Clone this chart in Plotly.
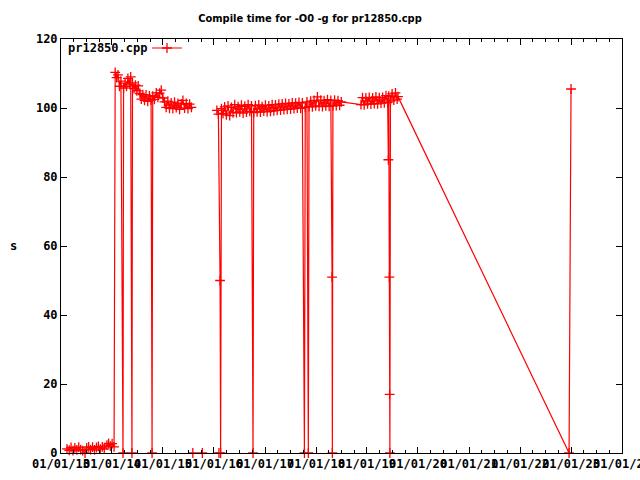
import plotly.graph_objects as go

# --- data (None = break in the line) ---
dates = [
    # 2013 cluster
    "2013-02-13", "2013-03-01", "2013-03-14", "2013-03-28", "2013-04-10", "2013-04-24",
    "2013-05-08", "2013-05-22", "2013-06-05", "2013-06-22", "2013-07-04", "2013-07-18",
    "2013-08-01", "2013-08-15", "2013-08-29", "2013-09-12", "2013-09-26", "2013-10-10",
    "2013-10-24", "2013-11-07", "2013-11-26", "2013-12-08", "2013-12-20", "2014-01-02",
    "2014-01-16",
    # 2014-2015
    "2014-01-24", "2014-02-03", "2014-02-13", "2014-02-24", "2014-03-06", "2014-03-21",
    "2014-03-25", "2014-04-05", "2014-04-15", "2014-04-25", "2014-05-05", "2014-05-15",
    "2014-05-24", "2014-05-28", "2014-06-08", "2014-06-18", "2014-06-28", "2014-07-08",
    "2014-07-20", "2014-07-30", "2014-08-10", "2014-08-22", "2014-09-02", "2014-09-14",
    "2014-09-26", "2014-10-08", "2014-10-15", "2014-10-20", "2014-11-01", "2014-11-14",
    "2014-11-26", "2014-12-08", "2014-12-20", "2015-01-01", "2015-01-12", "2015-01-24",
    "2015-02-05", "2015-02-17", "2015-03-01", "2015-03-13", "2015-03-25", "2015-04-06",
    "2015-04-18", "2015-04-30", "2015-05-12", "2015-05-24", "2015-06-05", "2015-06-17",
    "2015-06-29", "2015-07-11", "2015-07-24",
    None,
    "2015-08-03",
    None,
    "2015-10-10",
    None,
    "2016-02-06",
    None,
    # 2016-2019
    "2016-01-22", "2016-02-02", "2016-02-14", "2016-02-18", "2016-02-24", "2016-03-06",
    "2016-03-18", "2016-03-30", "2016-04-11", "2016-04-23", "2016-05-05", "2016-05-17",
    "2016-05-29", "2016-06-10", "2016-06-22", "2016-07-04", "2016-07-16", "2016-07-28",
    "2016-08-09", "2016-08-21", "2016-09-02", "2016-09-14", "2016-09-26", "2016-10-07",
    "2016-10-12", "2016-10-24", "2016-11-05", "2016-11-17", "2016-11-29", "2016-12-11",
    "2016-12-23", "2017-01-04", "2017-01-16", "2017-01-28", "2017-02-09", "2017-02-21",
    "2017-03-05", "2017-03-17", "2017-03-29", "2017-04-10", "2017-04-22", "2017-05-04",
    "2017-05-16", "2017-05-28", "2017-06-09", "2017-06-21", "2017-07-03", "2017-07-15",
    "2017-07-27", "2017-08-08", "2017-08-20", "2017-09-01", "2017-09-13", "2017-09-25",
    "2017-10-10", "2017-10-16", "2017-10-28", "2017-11-07", "2017-11-12", "2017-11-24",
    "2017-12-06", "2017-12-18", "2017-12-30", "2018-01-11", "2018-01-23", "2018-02-04",
    "2018-02-16", "2018-02-28", "2018-03-12", "2018-03-24", "2018-04-05", "2018-04-17",
    "2018-04-26", "2018-04-28", "2018-05-02", "2018-05-14", "2018-05-26", "2018-06-07",
    "2018-06-19", "2018-07-01", "2018-11-19", "2018-11-30", "2018-12-12", "2018-12-24",
    "2019-01-05", "2019-01-17", "2019-01-29", "2019-02-10", "2019-02-22", "2019-03-06",
    "2019-03-18", "2019-03-30", "2019-04-11", "2019-04-23", "2019-05-05", "2019-05-17",
    "2019-05-29", "2019-06-03", "2019-06-06", "2019-06-10", "2019-06-12", "2019-06-14",
    "2019-06-18", "2019-06-30", "2019-07-12", "2019-07-24", "2019-08-05", "2019-08-11",
    "2022-12-18", "2023-01-01",
]

seconds = [
    1.2, 0.8, 1.6, 0.7, 1.5, 0.9,
    1.7, 1.0, 0.7, 0.0, 1.5, 1.8,
    1.0, 1.7, 0.9, 1.6, 1.9, 1.1,
    1.8, 1.2, 2.3, 2.8, 2.0, 2.7,
    1.8,
    110.3, 108.8, 109.6, 106.3, 107.8, 0.0,
    105.8, 107.2, 106.3, 108.6, 106.9, 109.0,
    0.0, 107.3, 105.6, 106.6, 105.0, 106.4,
    104.2, 102.6, 103.9, 102.2, 103.8, 101.9,
    103.5, 102.3, 0.0, 103.4, 102.5, 104.4,
    103.1, 104.3, 105.2, 102.9, 101.8, 100.2,
    102.0, 99.9, 101.5, 99.8, 101.7, 100.1,
    101.3, 99.6, 101.2, 102.2, 100.0, 101.3,
    99.8, 101.1, 100.2,
    None,
    0.0,
    None,
    0.0,
    None,
    0.0,
    None,
    99.3, 98.2, 50.0, 0.0, 99.8, 98.4,
    100.3, 98.0, 100.6, 97.8, 100.2, 98.6,
    101.0, 98.7, 100.4, 98.9, 100.8, 98.5,
    100.5, 98.8, 101.0, 99.0, 100.6, 0.0,
    98.7, 100.7, 98.9, 100.9, 98.8, 100.4,
    99.1, 100.8, 98.9, 100.6, 99.0, 101.0,
    99.2, 100.9, 99.3, 101.1, 99.4, 101.2,
    99.5, 101.3, 99.6, 101.2, 99.7, 101.5,
    99.8, 101.4, 100.0, 101.6, 99.9, 101.5,
    0.0, 100.2, 101.8, 0.0, 100.4, 102.0,
    100.3, 102.2, 100.6, 103.2, 100.5, 102.3,
    100.4, 102.1, 100.6, 102.4, 100.5, 102.2,
    51.0, 0.0, 100.6, 102.3, 100.7, 102.1,
    100.8, 101.8, 101.0, 103.0, 100.9, 102.9,
    101.2, 103.1, 101.1, 102.9, 101.3, 103.2,
    101.2, 103.0, 101.4, 103.1, 101.5, 103.6,
    101.6, 85.0, 103.4, 51.0, 17.0, 0.0,
    102.0, 104.1, 102.3, 104.4, 102.6, 103.3,
    0.0, 105.5,
]

series_name = "pr12850.cpp"
title_text = "Compile time for -O0 -g for pr12850.cpp"
y_label = "s"
x_range = ["2013-01-01", "2024-01-01"]
y_range = [0, 120]

RED = "#ff0000"
MONO = "DejaVu Sans Mono"

fig = go.Figure()
fig.add_trace(go.Scatter(
    x=dates, y=seconds, name=" ",
    mode="lines+markers",
    line=dict(color=RED, width=1.2),
    marker=dict(symbol="cross-thin", size=7, line=dict(color=RED, width=1.3)),
    connectgaps=False,
    cliponaxis=False,
    showlegend=True,
))

W, H = 640, 480
L, R, T, B = 61, 18, 39, 27
pw = W - L - R
ph = H - T - B

def px_x(p):
    return (p - L) / pw

def px_y(p):
    return (H - B - p) / ph

fig.update_layout(
    width=W, height=H,
    margin=dict(l=L, r=R, t=T, b=B, autoexpand=False),
    paper_bgcolor="white", plot_bgcolor="white",
    font=dict(family=MONO, size=12, color="black", weight="bold"),
    title=dict(text=title_text, x=310 / W, xref="container", xanchor="center",
               y=1 - 18 / H, yref="container", yanchor="middle",
               font=dict(family="DejaVu Sans Condensed", size=11, color="black", weight="bold")),
    showlegend=True,
    legend=dict(x=px_x(147), y=px_y(48), xanchor="left", yanchor="middle",
                bgcolor="rgba(0,0,0,0)", borderwidth=0,
                font=dict(family=MONO, size=12, color="black", weight="bold"),
                itemwidth=30, tracegroupgap=0),
    annotations=[
        dict(text=series_name, x=px_x(66), y=px_y(48), xref="paper", yref="paper",
             xanchor="left", yanchor="middle", showarrow=False,
             font=dict(family=MONO, size=12, color="black", weight="bold")),
        dict(text=y_label, x=px_x(14), y=0.5, xref="paper", yref="paper",
             xanchor="center", yanchor="middle", showarrow=False,
             font=dict(family=MONO, size=12, color="black", weight="bold")),
    ],
)

fig.update_xaxes(
    type="date", range=x_range, automargin=False,
    tick0="2013-01-01", dtick="M12", tickformat="%m/%d/%y",
    ticks="inside", ticklen=6, tickwidth=1, tickcolor="black",
    showline=True, linecolor="black", linewidth=1, mirror="allticks",
    showgrid=False, zeroline=False, tickangle=0, ticklabeloverflow="allow",
    minor=dict(dtick="M3", ticks="inside", ticklen=3, tickcolor="black", showgrid=False),
    tickfont=dict(family=MONO, size=12, color="black", weight="bold"),
)
fig.update_yaxes(
    range=y_range, dtick=20, tick0=0, automargin=False,
    ticks="inside", ticklen=6, tickwidth=1, tickcolor="black",
    showline=True, linecolor="black", linewidth=1, mirror="allticks",
    showgrid=False, zeroline=False,
    tickfont=dict(family=MONO, size=12, color="black", weight="bold"),
)

fig.write_html("out.html", config={"displayModeBar": False},
               post_script="document.body.style.margin='0';")
